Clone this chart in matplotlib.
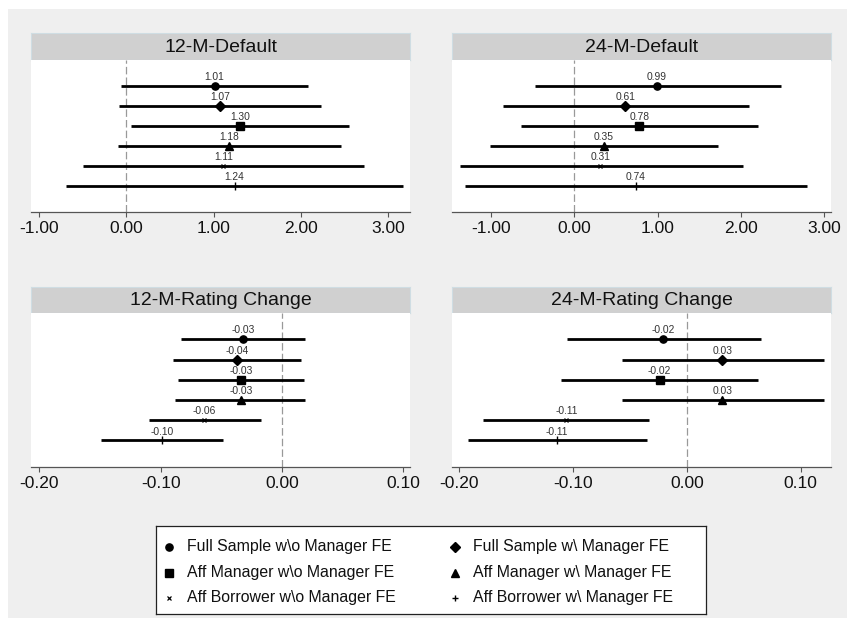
import matplotlib
matplotlib.use("Agg")
import matplotlib.pyplot as plt
from matplotlib.patches import Rectangle

plt.rcParams['font.family'] = ['Liberation Sans', 'DejaVu Sans']

# ---------------- data ----------------
series_labels = ["Full Sample w\\o Manager FE", "Full Sample w\\ Manager FE",
                 "Aff Manager w\\o Manager FE", "Aff Manager w\\ Manager FE",
                 "Aff Borrower w\\o Manager FE", "Aff Borrower w\\ Manager FE"]
panel_titles = ["12-M-Default", "24-M-Default", "12-M-Rating Change", "24-M-Rating Change"]

est_12d = [1.01, 1.07, 1.30, 1.18, 1.11, 1.24]
lo_12d = [-0.06, -0.09, 0.05, -0.10, -0.50, -0.69]
hi_12d = [2.08, 2.23, 2.55, 2.46, 2.72, 3.17]

est_24d = [0.99, 0.61, 0.78, 0.35, 0.31, 0.74]
lo_24d = [-0.48, -0.86, -0.64, -1.02, -1.38, -1.32]
hi_24d = [2.48, 2.10, 2.21, 1.73, 2.02, 2.80]

est_12r = [-0.032, -0.037, -0.034, -0.034, -0.064, -0.099]
lo_12r = [-0.083, -0.090, -0.086, -0.088, -0.110, -0.149]
hi_12r = [0.019, 0.016, 0.018, 0.019, -0.017, -0.049]

est_24r = [-0.021, 0.031, -0.024, 0.031, -0.106, -0.114]
lo_24r = [-0.105, -0.057, -0.111, -0.057, -0.179, -0.192]
hi_24r = [0.065, 0.120, 0.062, 0.120, -0.033, -0.035]

ticks_default = [-1.0, 0.0, 1.0, 2.0, 3.0]
ticks_rating = [-0.2, -0.1, 0.0, 0.1]

# ---------------- styling ----------------
W, H = 847, 618
fig = plt.figure(figsize=(W / 100, H / 100), dpi=100, facecolor='white')
fig.patches.append(Rectangle((8 / W, 0), 1 - 8 / W, 1 - 9 / H, transform=fig.transFigure,
                             facecolor='#efefef', edgecolor='none', zorder=-10))

def rect(x0, y0, x1, y1):
    return [x0 / W, 1 - y1 / H, (x1 - x0) / W, (y1 - y0) / H]

markers = [dict(marker='o', ms=5.2), dict(marker='D', ms=5.0), dict(marker='s', ms=5.2),
           dict(marker='^', ms=6.0), dict(marker='x', ms=2.6, mew=0.9), dict(marker='|', ms=6.0, mew=1.0)]

panels = [
    (est_12d, lo_12d, hi_12d, ticks_default, (-1.094, 3.25), (31, 60, 410, 211.7), (33, 60)),
    (est_24d, lo_24d, hi_24d, ticks_default, (-1.468, 3.08), (452.3, 60, 830.7, 211.7), (33, 60)),
    (est_12r, lo_12r, hi_12r, ticks_rating, (-0.2068, 0.1054), (31, 313, 410, 466.7), (287.3, 313)),
    (est_24r, lo_24r, hi_24r, ticks_rating, (-0.2062, 0.1263), (452.3, 313, 830.7, 466.7), (287.3, 313)),
]

rows = list(range(1, 7))
for (est, lo, hi, ticks, xl, (x0, y0, x1, y1), (sy0, sy1)), title in zip(panels, panel_titles):
    # strip
    sax = fig.add_axes(rect(x0, sy0, x1, sy1))
    sax.set_facecolor('#d0d0d0')
    for sp in sax.spines.values():
        sp.set_color('#cfdde3')
        sp.set_linewidth(0.8)
    sax.set_xticks([]); sax.set_yticks([])
    sax.text(0.5, 0.47, title, ha='center', va='center', fontsize=14, color='#111111',
             transform=sax.transAxes)

    ax = fig.add_axes(rect(x0, y0, x1, y1))
    ax.set_facecolor('white')
    ax.set_xlim(*xl)
    ax.set_ylim(7.3, -0.3)
    ax.axvline(0, color='#999999', lw=0.9, dashes=(6, 2.5), zorder=1)
    ax.hlines(rows, lo, hi, color='black', lw=2.0, zorder=2)
    for r, e, m in zip(rows, est, markers):
        ax.plot([e], [r], ls='none', color='black', zorder=3, **m)
        ax.annotate('%.2f' % e, (e, r), xytext=(0, 4.2), textcoords='offset points',
                    ha='center', va='baseline', fontsize=7.4, color='#333333', zorder=4)
    for s in ('top', 'left', 'right'):
        ax.spines[s].set_visible(False)
    ax.spines['bottom'].set_color('#555555')
    ax.spines['bottom'].set_linewidth(0.9)
    ax.set_yticks([])
    ax.set_xticks(ticks)
    ax.set_xticklabels(['%.2f' % t for t in ticks])
    ax.tick_params(axis='x', direction='out', length=3.6, width=0.8, color='#555555',
                   labelsize=12.5, labelcolor='#111111', pad=3)

# ---------------- legend ----------------
lx0, ly0, lx1, ly1 = 156, 526, 706, 614
lax = fig.add_axes(rect(lx0, ly0, lx1, ly1))
lax.set_xlim(0, lx1 - lx0)
lax.set_ylim(ly1 - ly0, 0)
lax.set_facecolor('white')
for sp in lax.spines.values():
    sp.set_color('#222222')
    sp.set_linewidth(0.9)
lax.set_xticks([]); lax.set_yticks([])
leg_markers = [dict(marker='o', ms=5.2), dict(marker='D', ms=5.0), dict(marker='s', ms=5.2),
               dict(marker='^', ms=5.6), dict(marker='x', ms=2.6, mew=0.9), dict(marker='+', ms=4.5, mew=1.0)]
col_mx = [13.3, 299.0]
col_tx = [30.5, 317.0]
row_y = [21, 46.5, 71.5]
for i, (lab, m) in enumerate(zip(series_labels, leg_markers)):
    c, r = i % 2, i // 2
    lax.plot([col_mx[c]], [row_y[r]], ls='none', color='black', **m)
    lax.text(col_tx[c], row_y[r], lab, ha='left', va='center', fontsize=11.4, color='#111111')

fig.savefig('out.png', dpi=100, facecolor=fig.get_facecolor())
